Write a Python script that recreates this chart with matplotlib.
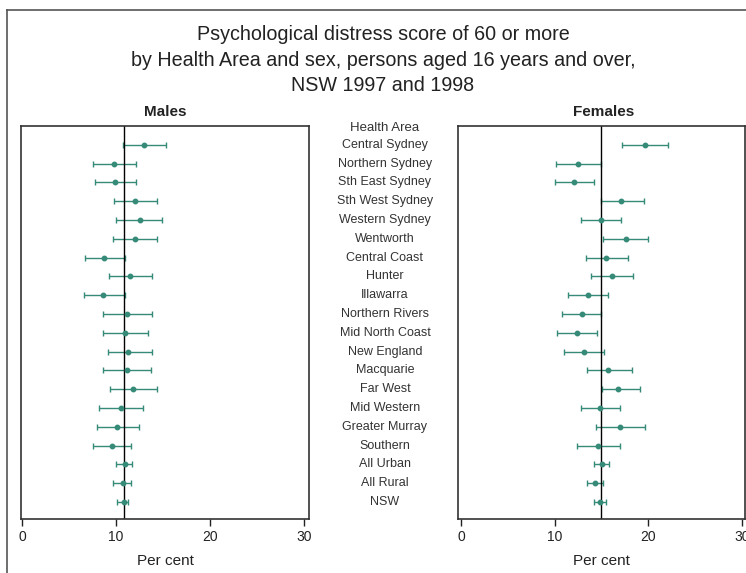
import matplotlib
matplotlib.use('Agg')
import matplotlib.pyplot as plt
import matplotlib.transforms as mtransforms
from matplotlib.lines import Line2D

plt.rcParams['font.family'] = ['Liberation Sans', 'DejaVu Sans']

areas = ['Central Sydney', 'Northern Sydney', 'Sth East Sydney', 'Sth West Sydney',
         'Western Sydney', 'Wentworth', 'Central Coast', 'Hunter', 'Illawarra',
         'Northern Rivers', 'Mid North Coast', 'New England', 'Macquarie', 'Far West',
         'Mid Western', 'Greater Murray', 'Southern', 'All Urban', 'All Rural', 'NSW']

male_est = [13.0, 9.8, 9.9, 12.0, 12.5, 12.0, 8.7, 11.5, 8.6, 11.2,
            11.0, 11.3, 11.2, 11.8, 10.5, 10.1, 9.6, 10.9, 10.7, 10.8]
male_lo = [10.7, 7.6, 7.8, 9.8, 10.0, 9.7, 6.7, 9.2, 6.6, 8.6,
           8.6, 9.1, 8.6, 9.4, 8.2, 8.0, 7.5, 10.0, 9.7, 10.1]
male_hi = [15.3, 12.1, 12.1, 14.3, 14.9, 14.4, 10.9, 13.8, 10.9, 13.8,
           13.4, 13.8, 13.7, 14.3, 12.9, 12.4, 11.6, 11.7, 11.6, 11.3]

fem_est = [19.6, 12.5, 12.1, 17.1, 14.9, 17.6, 15.5, 16.1, 13.6, 12.9,
           12.4, 13.1, 15.7, 16.8, 14.8, 17.0, 14.6, 15.0, 14.3, 14.8]
fem_lo = [17.2, 10.1, 10.0, 14.9, 12.8, 15.2, 13.3, 13.9, 11.4, 10.8,
          10.2, 11.0, 13.4, 15.1, 12.8, 14.4, 12.4, 14.2, 13.4, 14.2]
fem_hi = [22.1, 14.9, 14.2, 19.5, 17.1, 20.0, 17.8, 18.4, 15.7, 14.9,
          14.5, 15.3, 18.3, 19.1, 17.0, 19.7, 17.0, 15.8, 15.2, 15.5]

male_nsw = 10.8
fem_nsw = 14.9
xticks = [0, 10, 20, 30]

W, H = 746, 573
fig = plt.figure(figsize=(W / 100, H / 100), dpi=100)
fig.patch.set_facecolor('white')

bar_col = '#358b78'
ink = '#222222'


def panel(rect, est, lo, hi, ref, xlim, name, name_x):
    ax = fig.add_axes(rect)
    y = list(range(len(est)))
    err = [[e - l for e, l in zip(est, lo)], [h - e for e, h in zip(est, hi)]]
    ax.errorbar(est, y, xerr=err, fmt='o', color=bar_col, ecolor=bar_col,
                elinewidth=1.0, capsize=2.5, capthick=1.0, markersize=3.2)
    ax.axvline(ref, color='black', lw=1.0)
    ax.set_xlim(*xlim)
    ax.set_ylim(len(est) - 0.1, -1.0)
    ax.set_yticks([])
    ax.set_xticks(xticks)
    ax.tick_params(axis='x', direction='out', length=5, width=1.0, pad=3,
                   labelsize=10, colors=ink)
    for s in ax.spines.values():
        s.set_color('#333333')
        s.set_linewidth(1.2)
    ax.set_xlabel('Per cent', fontsize=11, color=ink, labelpad=7)
    fig.text(name_x / W, 1 - 112 / H, name, ha='center', va='center',
             fontsize=11, fontweight='bold', color=ink)
    return ax


ax1 = panel([21 / W, 1 - 519 / H, 288 / W, 393 / H], male_est, male_lo, male_hi,
            male_nsw, (-0.1, 30.5), 'Males', 165)
ax2 = panel([458 / W, 1 - 519 / H, 287 / W, 393 / H], fem_est, fem_lo, fem_hi,
            fem_nsw, (-0.35, 30.35), 'Females', 604)

# area names in the middle, aligned with the rows
trans = mtransforms.blended_transform_factory(fig.transFigure, ax1.transData)
fig.text(385 / W, 1 - 128 / H, 'Health Area', ha='center', va='center',
         fontsize=9.5, color='#333333')
for i, a in enumerate(areas):
    fig.text(385 / W, i, a, transform=trans, ha='center', va='center',
             fontsize=9, color='#333333')

title = ('Psychological distress score of 60 or more\n'
         'by Health Area and sex, persons aged 16 years and over,\n'
         'NSW 1997 and 1998')
fig.text(383 / W, 1 - 60 / H, title, ha='center', va='center', fontsize=14.2,
         color=ink, linespacing=1.45)

# outer frame of the scanned page
fig.add_artist(Line2D([6.5 / W, 6.5 / W], [0, 1 - 10 / H], color='#555555', lw=1.2))
fig.add_artist(Line2D([6.5 / W, 1], [1 - 10 / H, 1 - 10 / H], color='#555555', lw=1.2))

fig.savefig('out.png', dpi=100)
